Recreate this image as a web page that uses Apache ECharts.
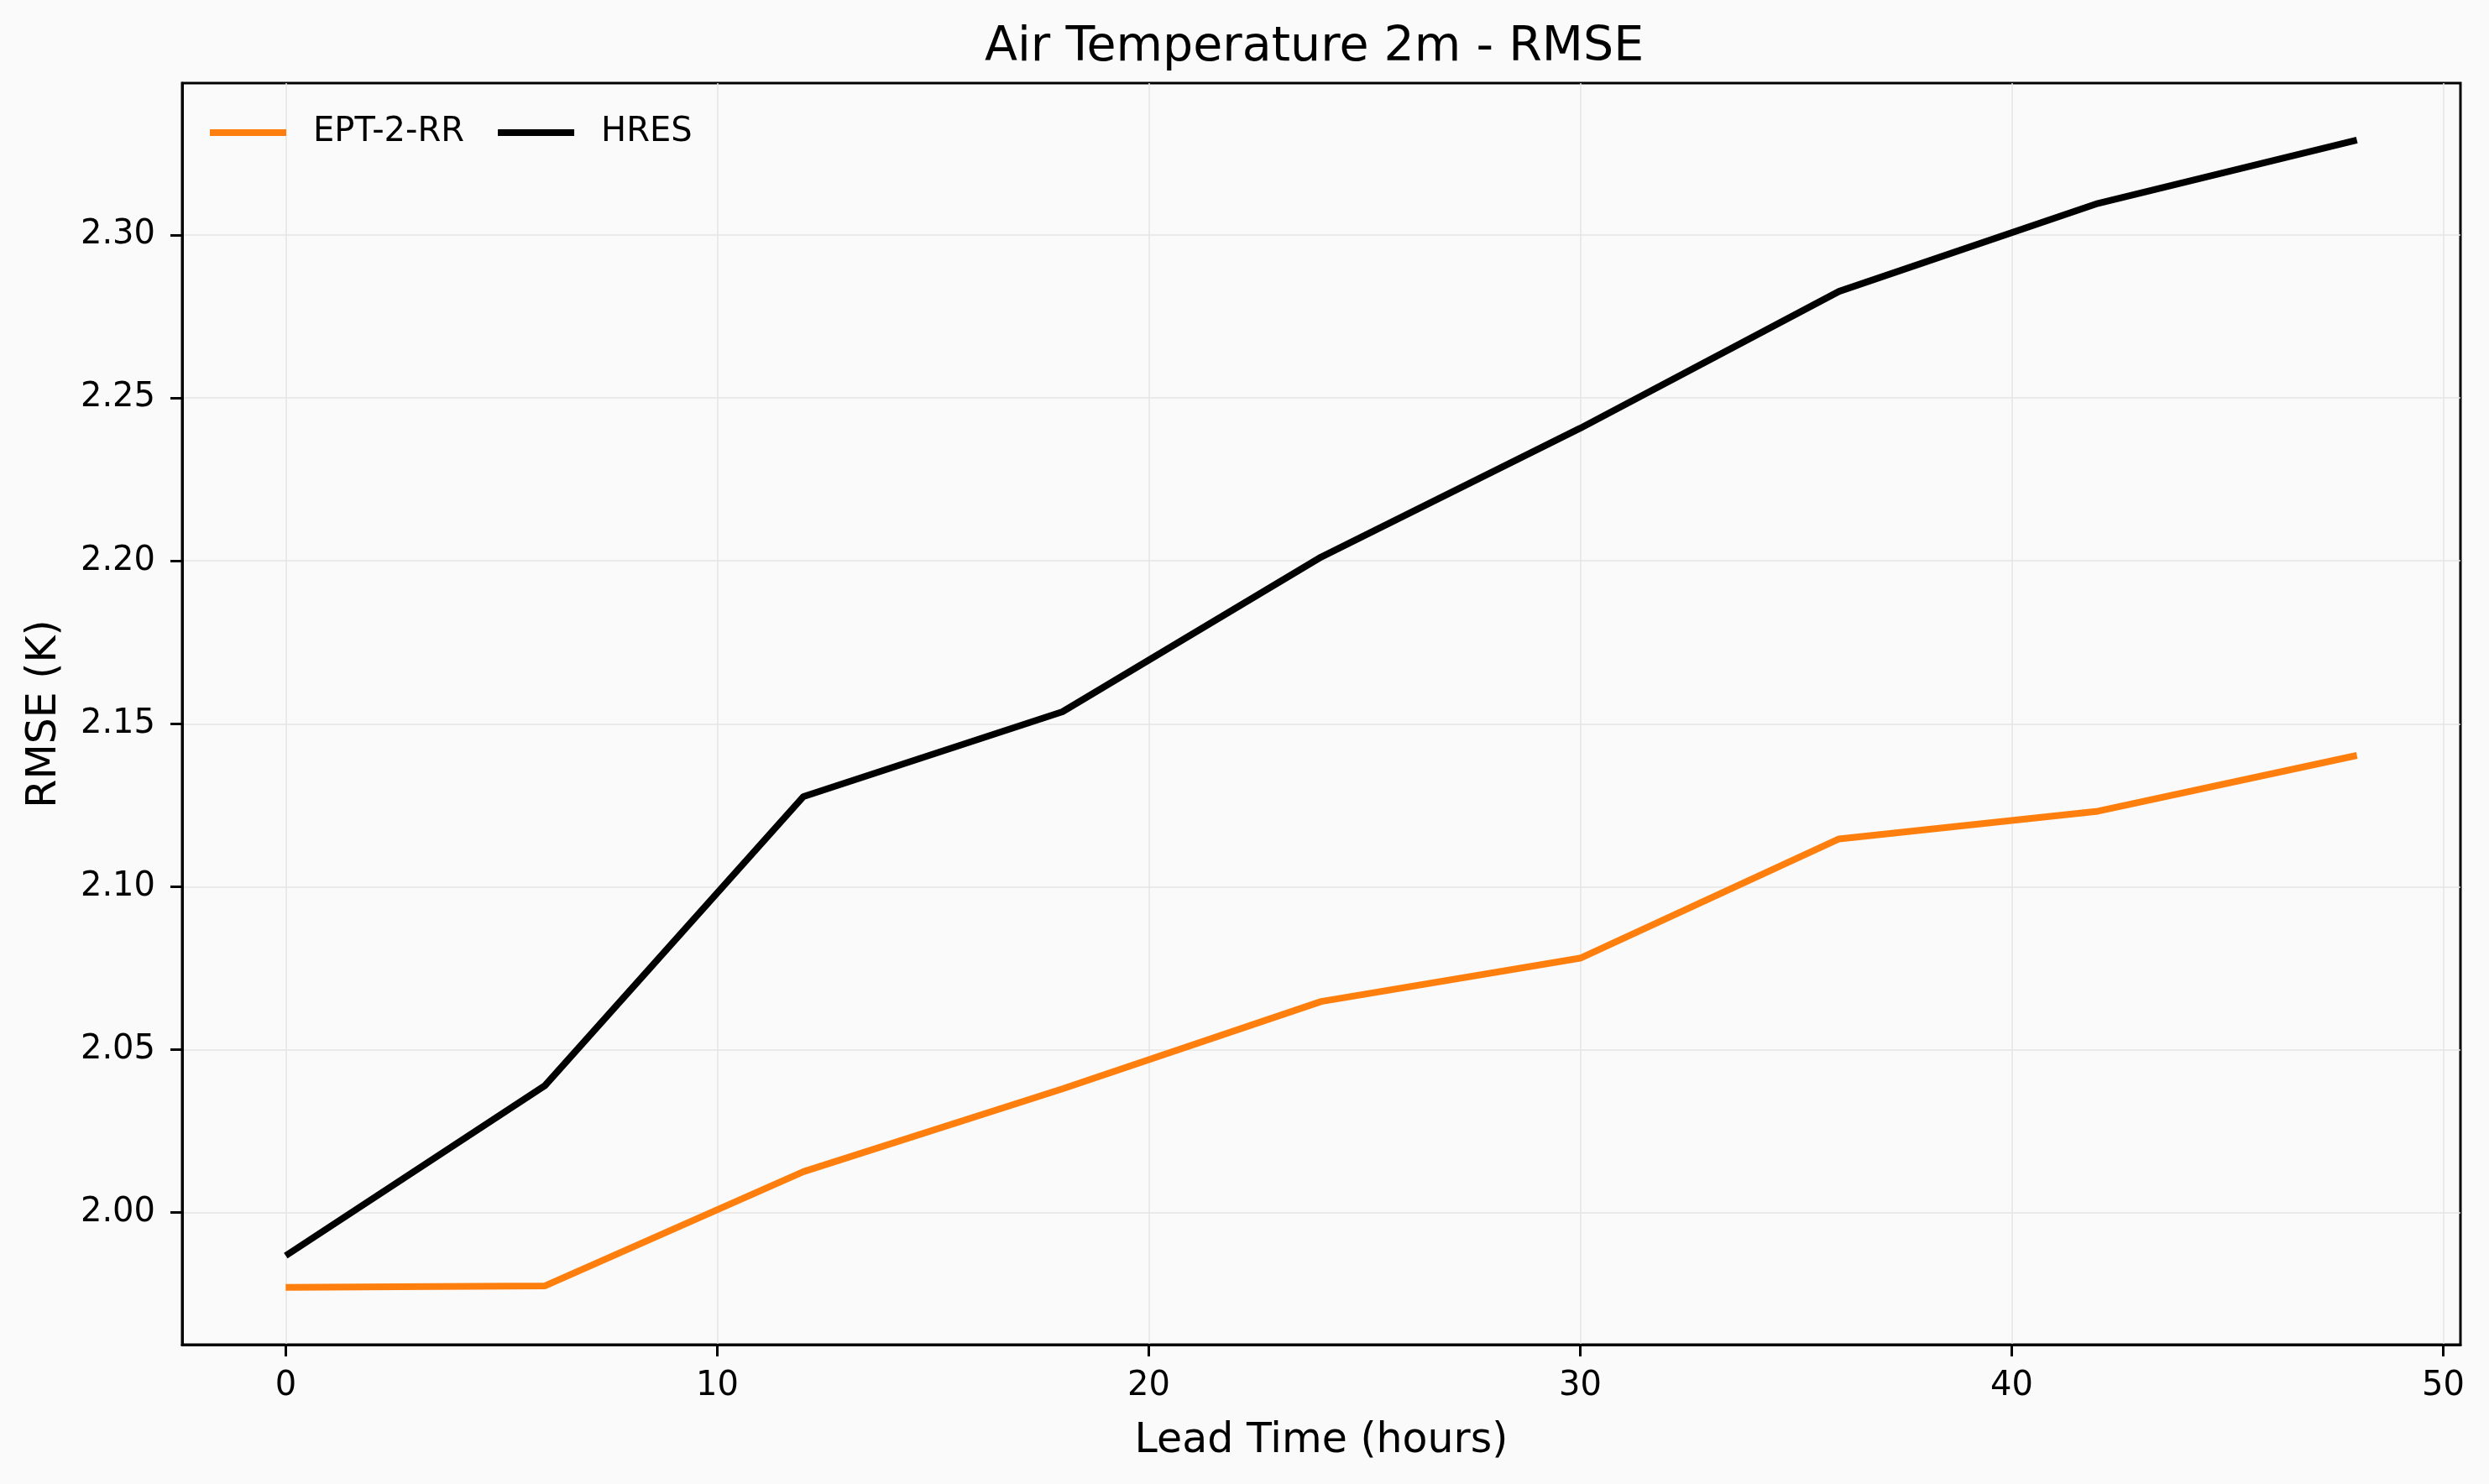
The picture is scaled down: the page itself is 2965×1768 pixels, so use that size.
<!DOCTYPE html>
<html>
<head>
<meta charset="utf-8">
<title>Air Temperature 2m - RMSE</title>
<script src="https://cdn.jsdelivr.net/npm/echarts@6/dist/echarts.min.js"></script>
<style>
  html, body { margin: 0; padding: 0; background: #fafafa; }
  #main { width: 2965px; height: 1768px; }
</style>
</head>
<body>
<div id="main"></div>
<script>
// lead times (hours)
var leadTimes = [0, 6, 12, 18, 24, 30, 36, 42, 48];
// RMSE values
var eptValues = [1.9771, 1.9775, 2.0126, 2.0380, 2.0648, 2.0781, 2.1147, 2.1232, 2.1403];
var hresValues = [1.9868, 2.0389, 2.1277, 2.1537, 2.2012, 2.2407, 2.2827, 2.3097, 2.3291];
// tick labels
var xTicks = [0, 10, 20, 30, 40, 50];
var yTicks = [2.00, 2.05, 2.10, 2.15, 2.20, 2.25, 2.30];

var FONT = '"DejaVu Sans", sans-serif';

function pairs(xs, ys) {
  var out = [];
  for (var i = 0; i < xs.length; i++) {
    out.push([xs[i], ys[i]]);
  }
  return out;
}

var chart = echarts.init(document.getElementById('main'), null, { renderer: 'canvas' });

var option = {
  animation: false,
  backgroundColor: '#fafafa',
  title: {
    // centred over the plot area, not the whole canvas
    text: 'Air Temperature 2m - RMSE',
    left: 1173,
    top: 29,
    padding: 0,
    textStyle: { fontFamily: FONT, fontSize: 57, fontWeight: 'normal', color: '#000', lineHeight: 57 }
  },
  legend: {
    left: 250,
    top: 138,
    padding: 0,
    itemWidth: 91,
    itemHeight: 8,
    itemGap: 40,
    icon: 'rect',
    textStyle: { fontFamily: FONT, fontSize: 40, color: '#000', lineHeight: 40, padding: [0, 0, 0, 27] },
    data: ['EPT-2-RR', 'HRES']
  },
  grid: {
    left: 217,
    right: 34,
    top: 99,
    bottom: 166,
    show: true,
    borderColor: '#000',
    borderWidth: 3,
    backgroundColor: 'transparent'
  },
  xAxis: {
    type: 'value',
    min: -2.4,
    max: 50.4,
    name: 'Lead Time (hours)',
    nameLocation: 'middle',
    nameGap: 91,
    nameTextStyle: { fontFamily: FONT, fontSize: 49, color: '#000', lineHeight: 49 },
    axisLine: { show: true, onZero: false, lineStyle: { color: '#000', width: 3 } },
    axisTick: { show: true, length: 14, lineStyle: { color: '#000', width: 3 }, customValues: xTicks },
    axisLabel: {
      fontFamily: FONT, fontSize: 40, color: '#000', margin: 30, lineHeight: 40,
      customValues: xTicks,
      formatter: function (v) { return String(v); }
    },
    splitLine: { show: true, lineStyle: { color: '#e4e4e4', width: 1.5 } }
  },
  yAxis: {
    type: 'value',
    min: 1.9595,
    max: 2.3466,
    name: 'RMSE (K)',
    nameLocation: 'middle',
    nameGap: 139,
    nameTextStyle: { fontFamily: FONT, fontSize: 49, color: '#000', lineHeight: 49 },
    axisLine: { show: true, onZero: false, lineStyle: { color: '#000', width: 3 } },
    axisTick: { show: true, length: 14, lineStyle: { color: '#000', width: 3 }, customValues: yTicks },
    axisLabel: {
      fontFamily: FONT, fontSize: 40, color: '#000', margin: 32,
      customValues: yTicks,
      formatter: function (v) { return v.toFixed(2); }
    },
    splitLine: { show: true, lineStyle: { color: '#e4e4e4', width: 1.5 } }
  },
  series: [
    {
      name: 'EPT-2-RR',
      type: 'line',
      data: pairs(leadTimes, eptValues),
      showSymbol: false,
      symbol: 'none',
      color: '#ff7f0e',
      lineStyle: { color: '#ff7f0e', width: 8 }
    },
    {
      name: 'HRES',
      type: 'line',
      data: pairs(leadTimes, hresValues),
      showSymbol: false,
      symbol: 'none',
      color: '#000000',
      lineStyle: { color: '#000000', width: 8 }
    }
  ]
};

chart.setOption(option);
</script>
</body>
</html>
